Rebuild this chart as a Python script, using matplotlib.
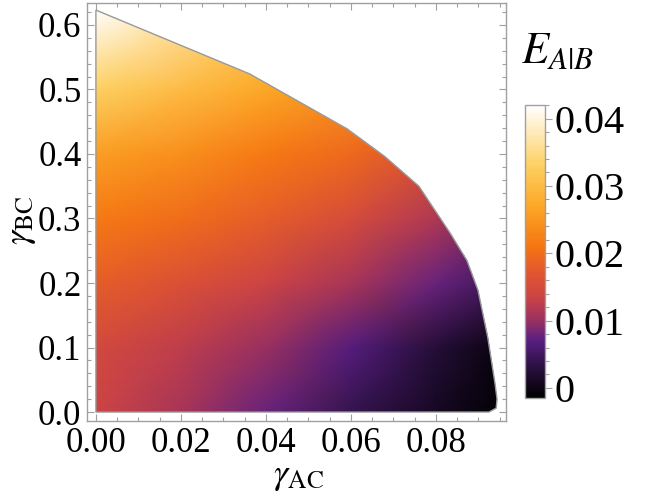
import matplotlib
matplotlib.use("Agg")
import matplotlib.pyplot as plt
import numpy as np
from matplotlib.colors import LinearSegmentedColormap, Normalize
from matplotlib.patches import Polygon
from matplotlib.ticker import MultipleLocator

gamma_ac = [0.0, 0.02, 0.04, 0.06, 0.08, 0.096]
gamma_bc = [0.0, 0.1, 0.2, 0.3, 0.4, 0.5, 0.623]
e_ab = [
    [0.0135, 0.0110, 0.0078, 0.0040, 0.0010, -0.0012],
    [0.0145, 0.0125, 0.0100, 0.0068, 0.0025, -0.0006],
    [0.0180, 0.0160, 0.0135, 0.0110, 0.0078, 0.0045],
    [0.0215, 0.0200, 0.0180, 0.0150, 0.0115, 0.0080],
    [0.0260, 0.0240, 0.0215, 0.0195, 0.0160, 0.0130],
    [0.0330, 0.0300, 0.0270, 0.0240, 0.0210, 0.0180],
    [0.0420, 0.0370, 0.0330, 0.0300, 0.0270, 0.0240],
]

# edge of the allowed region
edge_ac = [0.0, 0.0925, 0.0942, 0.0944, 0.0939, 0.0922, 0.0899, 0.0873,
           0.0833, 0.0760, 0.0680, 0.0591, 0.0362, 0.0]
edge_bc = [0.0, 0.0, 0.006, 0.020, 0.045, 0.116, 0.189, 0.235,
           0.278, 0.350, 0.396, 0.439, 0.524, 0.623]

# colour scale (sunset-like), value -> colour
stop_val = [-0.0015, 0.003, 0.0071, 0.010, 0.0135, 0.017, 0.021, 0.027, 0.033, 0.042]
stop_col = ["#000000", "#2a1040", "#5a1f82", "#9a3060", "#cc4444", "#e05530",
            "#f57512", "#fca726", "#fdcf60", "#ffffff"]

vmin, vmax = -0.0015, 0.042
frame_col = "#a0a0a0"

plt.rcParams["font.family"] = "serif"
plt.rcParams["font.serif"] = ["Liberation Serif", "DejaVu Serif"]
plt.rcParams["mathtext.fontset"] = "stix"

pos = [(v - vmin) / (vmax - vmin) for v in stop_val]
cmap = LinearSegmentedColormap.from_list("sunset", list(zip(pos, stop_col)))
norm = Normalize(vmin, vmax)

fig = plt.figure(figsize=(6.64, 4.98), dpi=100)
ax = fig.add_axes([0.131, 0.1546, 0.631, 0.8394])

X, Y = np.meshgrid(gamma_ac, gamma_bc)
mesh = ax.pcolormesh(X, Y, np.array(e_ab), cmap=cmap, norm=norm,
                     shading="gouraud", rasterized=True)
region = Polygon(np.column_stack([edge_ac, edge_bc]), closed=True,
                 facecolor="none", edgecolor="#999999", lw=1.0, zorder=3)
ax.add_patch(region)
mesh.set_clip_path(region)

ax.set_xlim(-0.0021, 0.0965)
ax.set_ylim(-0.0139, 0.634)
ax.xaxis.set_major_locator(MultipleLocator(0.02))
ax.xaxis.set_minor_locator(MultipleLocator(0.005))
ax.yaxis.set_major_locator(MultipleLocator(0.1))
ax.yaxis.set_minor_locator(MultipleLocator(0.02))
ax.xaxis.set_major_formatter(plt.FuncFormatter(lambda v, _: f"{v:.2f}"))
ax.yaxis.set_major_formatter(plt.FuncFormatter(lambda v, _: f"{v:.1f}"))
ax.tick_params(which="both", direction="in", top=True, right=True,
               color=frame_col, width=0.8, labelsize=25, pad=4)
ax.tick_params(which="major", length=5)
ax.tick_params(which="minor", length=3)
for s in ax.spines.values():
    s.set_color(frame_col)
    s.set_linewidth(1.0)

fig.text(0.449, 0.044, r"$\gamma_{\mathrm{AC}}$", fontsize=26, ha="center", va="center")
fig.text(0.033, 0.558, r"$\gamma_{\mathrm{BC}}$", fontsize=26, ha="center",
         va="center", rotation=90)

cax = fig.add_axes([0.7907, 0.2008, 0.030, 0.588])
cb = fig.colorbar(mesh, cax=cax)
cb.set_ticks([0, 0.01, 0.02, 0.03, 0.04])
cb.set_ticklabels(["0", "0.01", "0.02", "0.03", "0.04"])
cb.ax.yaxis.set_minor_locator(MultipleLocator(0.002))
cb.ax.tick_params(which="both", color=frame_col, width=0.8, labelsize=29, pad=2)
cb.ax.tick_params(which="major", length=5)
cb.ax.tick_params(which="minor", length=3)
cb.outline.set_edgecolor(frame_col)
cb.outline.set_linewidth(1.0)
fig.text(0.784, 0.873, r"$E_{A|B}$", fontsize=32, ha="left", va="baseline")

fig.savefig("out.png", dpi=100)
